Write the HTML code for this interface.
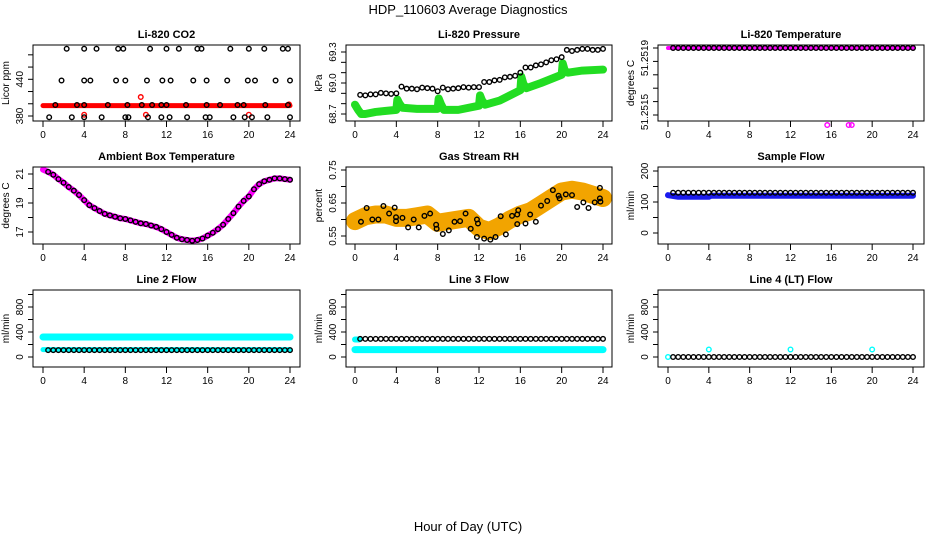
<!DOCTYPE html>
<html><head><meta charset="utf-8"><style>
html,body{margin:0;padding:0;background:#fff}
svg{display:block;font-family:"Liberation Sans",Arial,sans-serif}
</style></head><body>
<svg id="c" width="936" height="540" viewBox="0 0 936 540">
<text x="468" y="14" text-anchor="middle" font-size="13">HDP_110603  Average Diagnostics</text>
<text x="468" y="531" text-anchor="middle" font-size="13">Hour of Day (UTC)</text>
</svg>
<script>
// ---------- data ----------
const hoursAxisTicks=[0,4,8,12,16,20,24];
const H48=[0.5,1,1.5,2,2.5,3,3.5,4,4.5,5,5.5,6,6.5,7,7.5,8,8.5,9,9.5,10,10.5,11,11.5,12,12.5,13,13.5,14,14.5,15,15.5,16,16.5,17,17.5,18,18.5,19,19.5,20,20.5,21,21.5,22,22.5,23,23.5,24];
// CO2
const co2Hours=[0.6,2.8,4,5.7,8,8.3,10.2,11.5,12.3,14,15.8,16.2,18.5,19.6,20.3,21.8,24, 1.2,3.3,4,6.3,8.2,9.6,10.6,11.5,12,13.9,15.9,17.2,18.9,19.5,21.6,23.8, 1.8,4,4.6,7.1,8,10.1,11.6,12.4,14.6,15.9,17.9,19.9,20.6,22.6,24, 2.3,4,5.2,7.3,7.8,10.4,12,13.2,15,15.4,18.2,20,21.5,23.3,23.8];
const co2Values=[378,378,378,378,378,378,378,378,378,378,378,378,378,378,378,378,378, 398,398,398,398,398,398,398,398,398,398,398,398,398,398,398,398, 438,438,438,438,438,438,438,438,438,438,438,438,438,438,438, 490,490,490,490,490,490,490,490,490,490,490,490,490,490,490];
const co2BandHours=[0,4,8,12,16,20,24];
const co2BandValues=[397,397,397,397,397,397,397];
const co2OutHours=[4,10,20,9.5,23.9];
const co2OutValues=[382,382,382,411,399];
// Pressure
const presHours=[0.5,1,1.5,2,2.5,3,3.5,4,4.5,5,5.5,6,6.5,7,7.5,8,8.5,9,9.5,10,10.5,11,11.5,12,12.5,13,13.5,14,14.5,15,15.5,16,16.5,17,17.5,18,18.5,19,19.5,20,20.5,21,21.5,22,22.5,23,23.5,24];
const presValues=[68.885,68.88,68.89,68.89,68.905,68.9,68.895,68.9,68.965,68.945,68.945,68.94,68.955,68.95,68.945,68.92,68.955,68.94,68.945,68.95,68.96,68.955,68.96,68.96,69.01,69.01,69.025,69.03,69.055,69.06,69.07,69.1,69.15,69.15,69.17,69.18,69.2,69.22,69.23,69.25,69.32,69.31,69.32,69.33,69.33,69.32,69.32,69.33];
const presGreenHours=[0,0.3,0.6,1,2,3,4,4.1,4.3,4.6,6,8,8.1,8.3,8.6,10,12,12.1,12.3,12.6,14,16,16.1,16.3,16.6,18,20,20.1,20.3,20.6,22,24];
const presGreenValues=[68.79,68.74,68.7,68.7,68.72,68.73,68.74,68.84,68.8,68.76,68.75,68.75,68.85,68.8,68.74,68.74,68.78,68.88,68.83,68.79,68.83,68.93,69.06,68.99,68.95,69.0,69.08,69.19,69.12,69.1,69.12,69.13];
// Li-820 temperature
const ltHours=H48;
const ltValues=H48.map(()=>51.2519);
const ltOutHours=[15.6,17.7,18.0];
const ltOutValues=[51.25144,51.25144,51.25144];
// Ambient
const ambHours=[0,0.5,1,1.5,2,2.5,3,3.5,4,4.5,5,5.5,6,6.5,7,7.5,8,8.5,9,9.5,10,10.5,11,11.5,12,12.5,13,13.5,14,14.5,15,15.5,16,16.5,17,17.5,18,18.5,19,19.5,20,20.5,21,21.5,22,22.5,23,23.5,24];
const ambValues=[21.3,21.15,20.95,20.65,20.4,20.1,19.85,19.55,19.2,18.85,18.65,18.45,18.25,18.15,18.05,17.95,17.9,17.8,17.7,17.6,17.55,17.45,17.35,17.2,17.0,16.8,16.6,16.5,16.45,16.4,16.45,16.55,16.75,16.95,17.2,17.5,17.9,18.3,18.75,19.15,19.45,19.95,20.3,20.5,20.6,20.7,20.7,20.65,20.6];
// RH
const rhHours=[0.58,1.13,1.68,2.26,2.75,3.3,3.84,3.97,3.97,4.59,5.14,5.68,6.17,6.72,7.27,7.85,7.9,8.5,9.08,9.63,10.17,10.7,11.2,11.8,11.9,11.8,12.5,13.1,13.6,14.1,14.6,15.2,15.7,15.8,15.7,16.5,16.95,17.5,18,18.6,19.15,19.7,19.8,20.4,21,21.5,22.1,22.6,23.2,23.7,23.7,23.75];
const rhValues=[0.593,0.635,0.6,0.6,0.641,0.618,0.636,0.595,0.607,0.605,0.576,0.6,0.576,0.611,0.618,0.584,0.572,0.556,0.567,0.593,0.595,0.618,0.572,0.6,0.588,0.547,0.542,0.539,0.547,0.61,0.555,0.611,0.615,0.628,0.586,0.588,0.615,0.593,0.642,0.656,0.689,0.672,0.664,0.676,0.674,0.638,0.652,0.635,0.652,0.696,0.664,0.654];
const rhBandHours=[0,1,2,3,4,5,6,7,8,9,10,11,12,13,14,15,16,17,18,19,20,21,22,23,24];
const rhBandValues=[0.595,0.61,0.615,0.615,0.605,0.605,0.61,0.615,0.59,0.595,0.6,0.605,0.575,0.565,0.58,0.6,0.615,0.625,0.645,0.665,0.685,0.69,0.685,0.675,0.665];
// Sample flow
const sfHours=H48;
const sfBlack=H48.map(()=>130);
const sfBandHours=[0,1,4,4.2,8,8.2,12,12.2,16,16.2,20,20.2,24];
const sfBandValues=[122,117,117,120,120,120,120,120,120,120,120,120,120];
// Line flows
const l2Black=H48.map(()=>110);
const l2BandHours=[0,24];
const l2BandValues=[320,320];
const l2CyanLowHours=[0,24];
const l2CyanLowValues=[118,118];
const l3Black=H48.map(()=>290);
const l3BandHours=[0,24];
const l3BandValues=[118,118];
const l4Black=H48.map(()=>0);
const l4OutHours=[0,4,12,20];
const l4OutValues=[0,120,120,120];

// ---------- drawing ----------
const svg=document.getElementById('c');
const NS='http://www.w3.org/2000/svg';
function mk(tag,attrs,parent){const e=document.createElementNS(NS,tag);for(const k in attrs)e.setAttribute(k,attrs[k]);(parent||svg).appendChild(e);return e;}
const cols=[{L:33,R:300,x0:43,x24:290},{L:346,R:612,x0:355,x24:603},{L:658,R:924,x0:668,x24:913}];
const rows=[{T:45,B:121},{T:167,B:244},{T:290,B:367}];

function panel(name,title,ylab,c,r,v1,p1,v2,p2,ticks,labels){
  const col=cols[c],row=rows[r];
  const g=mk('g',{});
  
  
  const X=h=>col.x0+(col.x24-col.x0)*h/24;
  const Y=v=>p1+(v-v1)*(p2-p1)/(v2-v1);
  const t=mk('text',{x:(col.L+col.R)/2,y:row.T-7,'text-anchor':'middle','font-size':11,'font-weight':'bold'},g);t.textContent=title;
  
  
  const plot=mk('g',{},g);
  
  
  // x axis
  const xa=mk('g',{stroke:'#000','stroke-width':1},g);
  
  
  hoursAxisTicks.forEach(h=>{mk('line',{x1:X(h),x2:X(h),y1:row.B,y2:row.B+6},xa);
    const tx=mk('text',{x:X(h),y:row.B+17,'text-anchor':'middle','font-size':10,stroke:'none'},xa);tx.textContent=h;
    
    });
  // y axis
  const ya=mk('g',{stroke:'#000','stroke-width':1},g);
  
  
  ticks.forEach(v=>mk('line',{x1:col.L-5,x2:col.L,y1:Y(v),y2:Y(v)},ya));
  labels.forEach(([v,s])=>{const yy=(typeof v==='number')?Y(v):v[0];
    const tx=mk('text',{x:col.L-10,y:yy,'text-anchor':'middle','font-size':10,stroke:'none',transform:`rotate(-90 ${col.L-10} ${yy})`},ya);tx.textContent=s;
    
    });
  const yt=mk('text',{x:col.L-24,y:(row.T+row.B)/2,'text-anchor':'middle','font-size':10,transform:`rotate(-90 ${col.L-24} ${(row.T+row.B)/2})`},g);yt.textContent=ylab;
  
  
  const box=mk('rect',{x:col.L,y:row.T,width:col.R-col.L,height:row.B-row.T,fill:'none',stroke:'#000','stroke-width':1},g);
  
  
  return {X,Y,plot};
}
function band(P,hs,vs,color,w,nm){
  const pts=hs.map((h,i)=>P.X(h)+','+P.Y(vs[i])).join(' ');
  const e=mk('polyline',{points:pts,fill:'none',stroke:color,'stroke-width':w,'stroke-linejoin':'round','stroke-linecap':'round'},P.plot);
  
  
}
function pts(P,hs,vs,color,nm,r){
  hs.forEach((h,i)=>{const e=mk('circle',{cx:P.X(h),cy:P.Y(vs[i]),r:r||2.3,fill:'none',stroke:color,'stroke-width':1.4},P.plot);
    
    });
}

// P1 CO2
let P=panel('co2','Li-820 CO2','Licor ppm',0,0,380,116,440,79.3,[380,400,420,440,460,480],[[380,'380'],[440,'440']]);
band(P,co2BandHours,co2BandValues,'#ff0000',5,'co2-red-band');
pts(P,co2OutHours,co2OutValues,'#ff0000','co2-red-point');
pts(P,co2Hours,co2Values,'#000','co2-point');
// P2 Pressure
P=panel('pressure','Li-820 Pressure','kPa',1,0,68.7,114,69.3,52,[68.7,68.8,68.9,69.0,69.1,69.2,69.3],[[68.7,'68.7'],[69.0,'69.0'],[69.3,'69.3']]);
band(P,presGreenHours,presGreenValues,'#22dd22',8,'pressure-green-band');
pts(P,presHours,presValues,'#000','pressure-point');
// P3 Li-820 temperature
P=panel('licor-temp','Li-820 Temperature','degrees C',2,0,51.2515,115,51.2519,48,[51.2515,51.25158,51.25166,51.25174,51.25182,51.2519],[[[58],'51.2519'],[[112],'51.2515']]);
band(P,[0,24],[51.2519,51.2519],'#ff00ff',4,'licor-temp-magenta-band');
pts(P,ltHours,ltValues,'#000','licor-temp-point');
pts(P,ltOutHours,ltOutValues,'#ff00ff','licor-temp-magenta-point');
// P4 Ambient
P=panel('ambient','Ambient Box Temperature','degrees C',0,1,17,232,21,174,[17,18,19,20,21],[[17,'17'],[19,'19'],[21,'21']]);
band(P,ambHours,ambValues,'#ff00ff',6,'ambient-magenta-band');
pts(P,ambHours.slice(1),ambValues.slice(1),'#000','ambient-point');
// P5 RH
P=panel('rh','Gas Stream RH','percent',1,1,0.55,236,0.75,170,[0.55,0.6,0.65,0.7,0.75],[[0.55,'0.55'],[0.65,'0.65'],[0.75,'0.75']]);
band(P,rhBandHours,rhBandValues,'#f2a400',18,'rh-orange-band');
pts(P,rhHours,rhValues,'#000','rh-point');
// P6 Sample flow
P=panel('sample-flow','Sample Flow','ml/min',2,1,0,233,200,171,[0,50,100,150,200],[[0,'0'],[100,'100'],[200,'200']]);
band(P,sfBandHours,sfBandValues,'#1a1aee',6,'sample-flow-blue-band');
pts(P,sfHours,sfBlack,'#000','sample-flow-point');
// P7 Line 2
const fl=[0,200,400,600,800,1000],fll=[[0,'0'],[400,'400'],[800,'800']];
P=panel('line2','Line 2 Flow','ml/min',0,2,0,357,800,307,fl,fll);
band(P,l2BandHours,l2BandValues,'#00ffff',7,'line2-cyan-band');
band(P,l2CyanLowHours,l2CyanLowValues,'#00ffff',5,'line2-cyan-low-band');
pts(P,H48,l2Black,'#000','line2-point');
// P8 Line 3
P=panel('line3','Line 3 Flow','ml/min',1,2,0,357,800,307,fl,fll);
band(P,l3BandHours,l3BandValues,'#00ffff',7,'line3-cyan-band');
band(P,[0,0.4],[280,280],'#00ffff',6,'line3-cyan-start');
pts(P,H48,l3Black,'#000','line3-point');
// P9 Line 4
P=panel('line4','Line 4 (LT) Flow','ml/min',2,2,0,357,800,307,fl,fll);
pts(P,l4OutHours,l4OutValues,'#00ffff','line4-cyan-point');
pts(P,H48,l4Black,'#000','line4-point');
</script>
</body></html>
